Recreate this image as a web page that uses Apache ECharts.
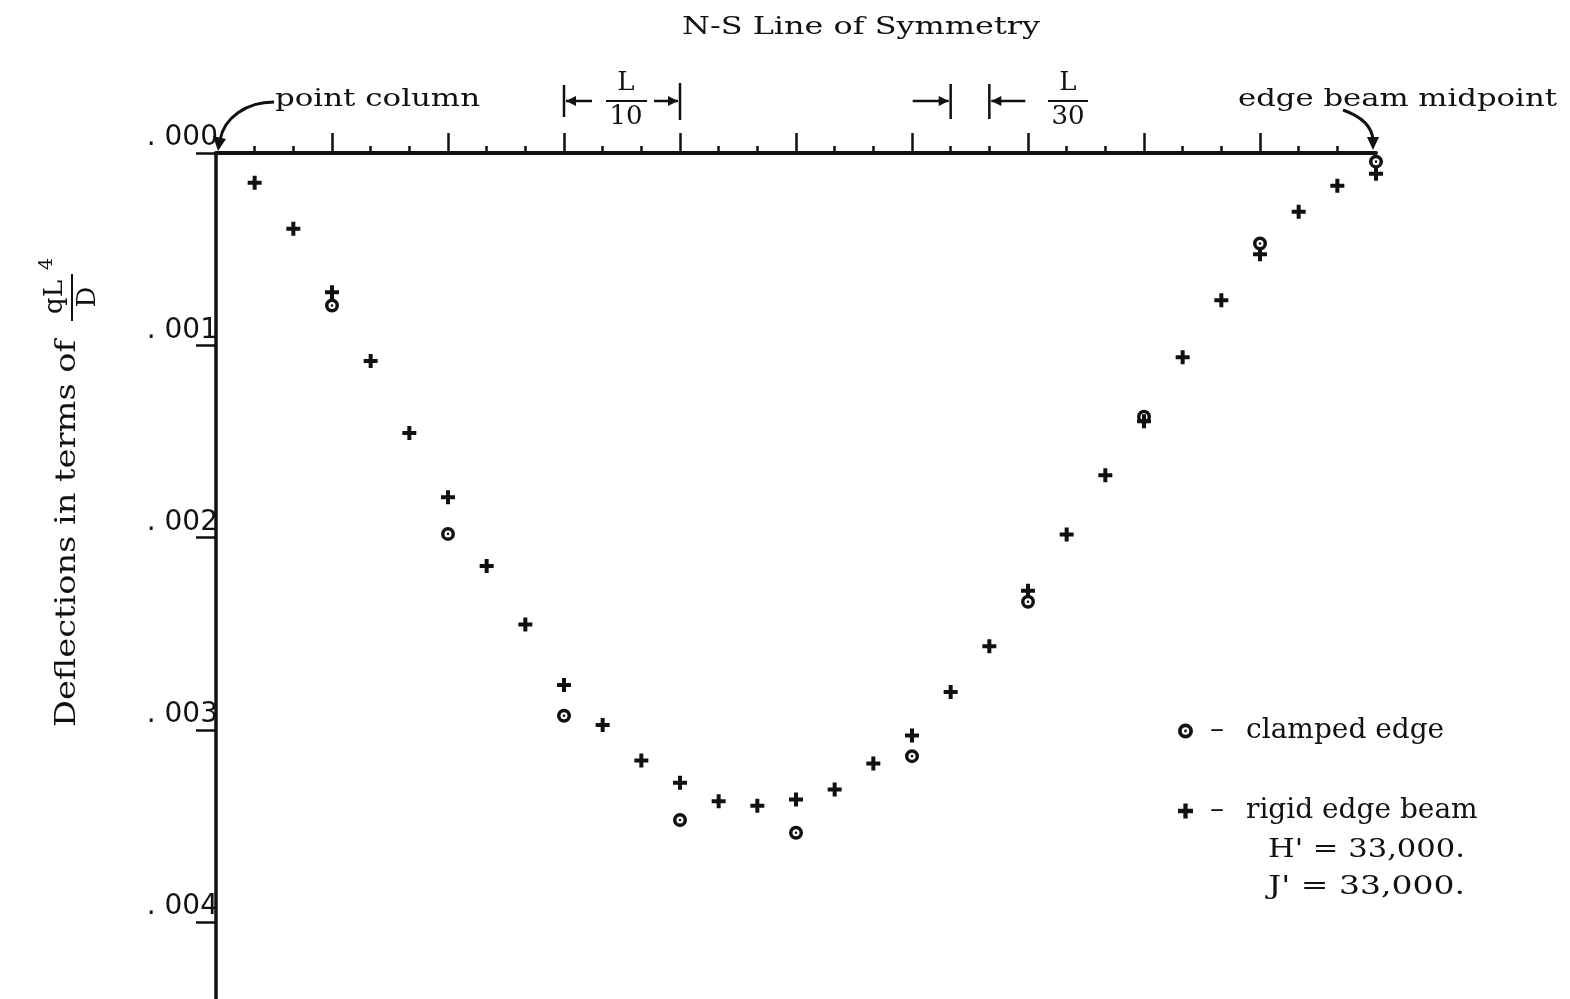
<!DOCTYPE html>
<html><head><meta charset="utf-8">
<script src="https://cdn.jsdelivr.net/npm/echarts@6/dist/echarts.min.js"></script>
<style>html,body{margin:0;padding:0;background:#fff}#c{width:1570px;height:999px}</style>
</head><body><div id="c"></div>
<script>
// ---- data (x in units of L/30 from the point column, y = deflection in qL^4/D) ----
const stations = [1,2,3,4,5,6,7,8,9,10,11,12,13,14,15,16,17,18,19,20,21,22,23,24,25,26,27,28,29,30];
const rigidBeam = [0.000155,0.000394,0.000724,0.001082,0.001456,0.001791,0.002148,0.002452,0.002767,0.002975,
                   0.003160,0.003275,0.003371,0.003395,0.003362,0.003311,0.003175,0.003029,0.002803,0.002566,
                   0.002277,0.001984,0.001676,0.001395,0.001062,0.000766,0.000527,0.000306,0.000170,0.000108];
const clampedStations = [3,6,9,12,15,18,21,24,27,30];
const clampedEdge = [0.000793,0.001981,0.002927,0.003469,0.003535,0.003137,0.002334,0.001372,0.000471,0.000045];
const yTicks = [0,0.001,0.002,0.003,0.004];
const yTickLabels = ['. 000','. 001','. 002','. 003','. 004'];
const xMajorTicks = [3,6,9,12,15,18,21,24,27];

const INK = '#111111';
const SERIF = '"DejaVu Serif"';
const plusPath = 'path://M-2,-7 L2,-7 L2,-2 L7,-2 L7,2 L2,2 L2,7 L-2,7 L-2,2 L-7,2 L-7,-2 L-2,-2 Z';
const ringPath = 'path://M0,-7 A7,7 0 1,1 0,7 A7,7 0 1,1 0,-7 Z M0,-3.5 A3.5,3.5 0 1,0 0,3.5 A3.5,3.5 0 1,0 0,-3.5 Z M0,-1.3 A1.3,1.3 0 1,1 0,1.3 A1.3,1.3 0 1,1 0,-1.3 Z';

const chart = echarts.init(document.getElementById('c'), null, {renderer:'canvas'});

const mctx = document.createElement('canvas').getContext('2d');
function textW(text, size, fam){ mctx.font = size + 'px ' + fam; return mctx.measureText(text).width; }
function T(text, x, y, size, width, align, vAlign){
  const w = textW(text, size, SERIF);
  const va = vAlign || 'middle';
  return {
    type:'text', x:x, y:y, scaleX: width ? width / w : 1,
    style:{text:text, x:0, y:0, font: size + 'px ' + SERIF, fill: INK,
           align: align || 'left', verticalAlign: va, textAlign: align || 'left', textVerticalAlign: va}
  };
}
function L(x1,y1,x2,y2,w){ return {type:'line', shape:{x1,y1,x2,y2}, style:{stroke:INK, lineWidth:w||2.5}}; }
function tri(pts){ return {type:'polygon', shape:{points:pts}, style:{fill:INK}}; }

chart.setOption({
  backgroundColor:'#ffffff',
  animation:false,
  grid:{left:216, top:153, width:1160, height:852, containLabel:false},
  xAxis:{
    type:'value', position:'top', min:0, max:30, interval:3,
    axisLine:{show:true, onZero:false, lineStyle:{color:INK, width:4}},
    axisTick:{show:true, inside:false, length:20, customValues:xMajorTicks, lineStyle:{color:INK, width:2.5}},
    minorTick:{show:true, splitNumber:3, length:7, lineStyle:{color:INK, width:2.5}},
    axisLabel:{show:false}, splitLine:{show:false}, minorSplitLine:{show:false}
  },
  yAxis:{
    type:'value', inverse:true, min:0, max:0.0044, interval:0.001,
    axisLine:{show:true, onZero:false, lineStyle:{color:INK, width:3.5}},
    axisTick:{show:true, inside:false, length:20, customValues:yTicks, lineStyle:{color:INK, width:2.5}},
    axisLabel:{show:true, customValues:yTicks, margin:-2, verticalAlign:'bottom', padding:[0,0,1,0],
      fontFamily:'"DejaVu Sans"', fontSize:28, color:INK,
      formatter:function(v){ let i=0; yTicks.forEach((t,k)=>{ if(Math.abs(t-v)<1e-9) i=k; }); return yTickLabels[i]; }},
    splitLine:{show:false}
  },
  legend:{
    orient:'vertical', left:1173, top:712, itemWidth:15, itemHeight:15, itemGap:52,
    textStyle:{fontFamily:SERIF, fontSize:28, color:INK,
      rich:{d:{fontFamily:SERIF, fontSize:28, width:38, align:'center'},
            t:{fontFamily:SERIF, fontSize:28, padding:[0,0,0,10]}}},
    formatter:function(n){ return '{d|\u2013}{t|' + n + '}'; },
    data:[{name:'clamped edge', icon:ringPath}, {name:'rigid edge beam', icon:plusPath}]
  },
  series:[
    {name:'rigid edge beam', type:'scatter', symbol:plusPath, symbolSize:14,
     itemStyle:{color:INK, opacity:1}, data: stations.map((s,i)=>[s, rigidBeam[i]]), z:3},
    {name:'clamped edge', type:'scatter', symbol:ringPath, symbolSize:14,
     itemStyle:{color:INK, opacity:1}, data: clampedStations.map((s,i)=>[s, clampedEdge[i]]), z:4}
  ]
});

// annotation positions tied to the axis
const px = v => chart.convertToPixel({gridIndex:0}, [v, 0])[0];
const x9 = px(9), x12 = px(12), x19 = px(19), x20 = px(20);

const g = [];
// title
g.push(T('N-S Line of Symmetry', 861, 27, 25, 358, 'center'));
// point column
g.push(T('point column', 275, 99, 25, 205, 'left'));
g.push({type:'bezierCurve', shape:{x1:274,y1:102, cpx1:246,cpy1:102, cpx2:224,cpy2:118, x2:220,y2:140}, style:{stroke:INK, lineWidth:3, fill:null}});
g.push(tri([[213,136],[226,139],[218,151]]));
// edge beam midpoint
g.push(T('edge beam midpoint', 1238, 99, 25, 319, 'left'));
g.push({type:'bezierCurve', shape:{x1:1343,y1:110, cpx1:1360,cpy1:116, cpx2:1372,cpy2:126, x2:1373,y2:140}, style:{stroke:INK, lineWidth:3, fill:null}});
g.push(tri([[1367,137],[1379,137],[1373,150]]));
// L/10 dimension
g.push(L(x9,85,x9,117,2.5));
g.push(L(x9+2,101,x9+28,101,2.5));
g.push(tri([[x9+2,101],[x9+12,96],[x9+12,106]]));
g.push(L(x12,83,x12,120,2.5));
g.push(L(x12-26,101,x12-2,101,2.5));
g.push(tri([[x12-2,101],[x12-12,96],[x12-12,106]]));
g.push(T('L', 626, 83, 26, 0, 'center'));
g.push(L(606,101,647,101,2));
g.push(T('10', 626, 117, 26, 0, 'center'));
// L/30 dimension
g.push(L(x19,84,x19,119,2.5));
g.push(L(x19-38,101,x19-2,101,2.5));
g.push(tri([[x19-2,101],[x19-12,96],[x19-12,106]]));
g.push(L(x20,84,x20,119,2.5));
g.push(L(x20+2,101,x20+36,101,2.5));
g.push(tri([[x20+2,101],[x20+12,96],[x20+12,106]]));
g.push(T('L', 1068, 83, 26, 0, 'center'));
g.push(L(1048,101,1088,101,2));
g.push(T('30', 1068, 117, 26, 0, 'center'));
// legend extra lines
g.push(T("H' = 33,000.", 1268, 850, 26, 197, 'left'));
g.push(T("J' = 33,000.", 1268, 887, 26, 197, 'left'));
// rotated y-axis title (local x runs up the page, local y runs to the right)
g.push({type:'group', x:83, y:727, rotation:Math.PI/2, children:[
  T('Deflections in terms of', 0, -15, 27, 387, 'left'),
  T('qL', 430, -15, 26, 0, 'center', 'bottom'),
  T('4', 463, -36, 19, 0, 'center'),
  T('D', 430, -8, 26, 0, 'center', 'top'),
  {type:'line', shape:{x1:406,y1:-11,x2:453,y2:-11}, style:{stroke:INK, lineWidth:2}}
]});

chart.setOption({graphic:{elements:g}});
</script></body></html>
